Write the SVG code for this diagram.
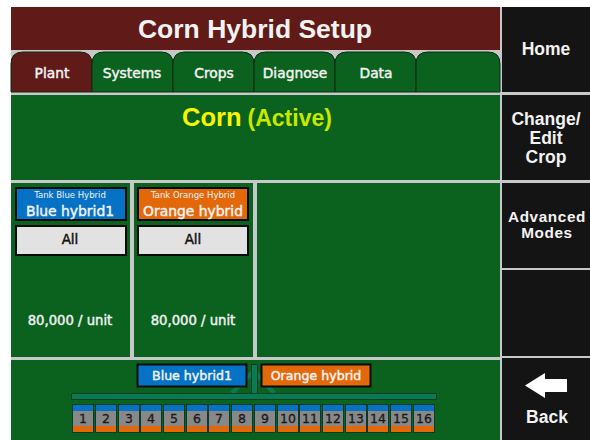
<svg xmlns="http://www.w3.org/2000/svg" width="590" height="440" viewBox="0 0 590 440">
<style>
text{font-family:"Liberation Sans",Arial,sans-serif;font-weight:700;fill:#f2f2f2;text-anchor:middle}
.g{fill:#0b621f}
.k{fill:#141414}
.tab{stroke:#0d2a12;stroke-width:1}
.dj{font-family:"DejaVu Sans",sans-serif;font-weight:400;stroke:#f2f2f2;stroke-width:.45px}
.tt{font-size:13.8px}
.side{font-size:17.5px}
.sm{font-size:8.5px;font-weight:400;font-family:"DejaVu Sans",sans-serif}
.nm{font-size:13.9px}
.amt{font-size:13.2px}
.lb{font-size:12.6px}
.all{font-size:13.5px;fill:#111;stroke:#111}
.box{stroke:#0a0a0a;stroke-width:2}
.bar{fill:#0a7a52;stroke:#0b3a28;stroke-width:1}
.rc{fill:#888;stroke:#0b3a28}
.rb{fill:#0672c6}
.ro{fill:#e2680a}
.rn{font-size:12.5px;fill:#1a1a1a;stroke:#1a1a1a;stroke-width:.3px}
</style>
<rect width="590" height="440" fill="#c8c8c8"/>
<rect width="590" height="7" fill="#fff"/>
<rect y="7" width="11" height="433" fill="#fff"/>
<g id="title"><rect x="11" y="7" width="489" height="43" fill="#601a18"/><text x="255" y="38" font-size="26.500">Corn Hybrid Setup</text></g>
<g id="tabs">
<path d="M11 92V64Q11 52 23 52H80Q92 52 92 64V92Z" fill="#601a18" class="tab"/>
<path d="M92 92V64Q92 52 104 52H161Q173 52 173 64V92Z" class="g tab"/>
<path d="M173 92V64Q173 52 185 52H242Q254 52 254 64V92Z" class="g tab"/>
<path d="M254 92V64Q254 52 266 52H323Q335 52 335 64V92Z" class="g tab"/>
<path d="M335 92V64Q335 52 347 52H404Q416 52 416 64V92Z" class="g tab"/>
<path d="M416 92V64Q416 52 428 52H488Q500 52 500 64V92Z" class="g tab"/>
<text x="52" y="78" class="dj tt">Plant</text><text x="132" y="78" class="dj tt">Systems</text><text x="214" y="78" class="dj tt">Crops</text><text x="295" y="78" class="dj tt">Diagnose</text><text x="376" y="78" class="dj tt">Data</text>
</g>
<g id="crop"><rect x="11" y="95" width="489" height="85" class="g"/><text x="257" y="126"><tspan font-size="25.500" fill="#f6f600">Corn</tspan><tspan font-size="23" fill="#c8e800" dx="6">(Active)</tspan></text></g>
<g id="tank-blue"><rect x="11" y="183" width="119" height="174" class="g"/>
<rect x="16" y="188" width="110" height="32" fill="#0672c6" class="box"/><text x="70" y="198" class="sm">Tank Blue Hybrid</text><text x="70" y="216" class="dj nm">Blue hybrid1</text>
<rect x="16" y="226" width="110" height="29" fill="#e2e2e2" class="box"/><text x="70" y="244" class="dj all">All</text>
<text x="70" y="325" class="dj amt">80,000 / unit</text></g>
<g id="tank-orange"><rect x="134" y="183" width="119" height="174" class="g"/>
<rect x="138" y="188" width="110" height="32" fill="#e2680a" class="box"/><text x="193" y="198" class="sm">Tank Orange Hybrid</text><text x="193" y="216" class="dj nm">Orange hybrid</text>
<rect x="138" y="226" width="110" height="29" fill="#e2e2e2" class="box"/><text x="193" y="244" class="dj all">All</text>
<text x="193" y="325" class="dj amt">80,000 / unit</text></g>
<g id="empty-panel"><rect x="257" y="183" width="243" height="174" class="g"/></g>
<g id="planter"><rect x="11" y="360" width="489" height="80" class="g"/>
<g id="connectors">
<path d="M232 393L254 371M274 393L254 371" stroke="#0a7a52" stroke-width="4.500" fill="none"/>
<rect x="251.500" y="364.500" width="6" height="29" class="bar"/>
<rect x="71.500" y="393.500" width="365" height="6" class="bar"/>
</g>
<rect x="137.500" y="364.500" width="109" height="22" fill="#0672c6" class="box"/><text x="192" y="380" class="dj lb">Blue hybrid1</text>
<rect x="261.500" y="364.500" width="109" height="22" fill="#e2680a" class="box"/><text x="316" y="380" class="dj lb">Orange hybrid</text>
</g>
<g id="rows">
<g id="r1"><rect x="72.500" y="404.500" width="21" height="28" class="rc"/><rect x="73" y="405" width="20" height="6" class="rb"/><rect x="73" y="426" width="20" height="6" class="ro"/><text x="83" y="423" class="dj rn">1</text></g>
<g id="r2"><rect x="95.500" y="404.500" width="21" height="28" class="rc"/><rect x="96" y="405" width="20" height="6" class="rb"/><rect x="96" y="426" width="20" height="6" class="ro"/><text x="106" y="423" class="dj rn">2</text></g>
<g id="r3"><rect x="118.500" y="404.500" width="21" height="28" class="rc"/><rect x="119" y="405" width="20" height="6" class="rb"/><rect x="119" y="426" width="20" height="6" class="ro"/><text x="129" y="423" class="dj rn">3</text></g>
<g id="r4"><rect x="140.500" y="404.500" width="21" height="28" class="rc"/><rect x="141" y="405" width="20" height="6" class="rb"/><rect x="141" y="426" width="20" height="6" class="ro"/><text x="151" y="423" class="dj rn">4</text></g>
<g id="r5"><rect x="163.500" y="404.500" width="21" height="28" class="rc"/><rect x="164" y="405" width="20" height="6" class="rb"/><rect x="164" y="426" width="20" height="6" class="ro"/><text x="174" y="423" class="dj rn">5</text></g>
<g id="r6"><rect x="186.500" y="404.500" width="21" height="28" class="rc"/><rect x="187" y="405" width="20" height="6" class="rb"/><rect x="187" y="426" width="20" height="6" class="ro"/><text x="197" y="423" class="dj rn">6</text></g>
<g id="r7"><rect x="208.500" y="404.500" width="21" height="28" class="rc"/><rect x="209" y="405" width="20" height="6" class="rb"/><rect x="209" y="426" width="20" height="6" class="ro"/><text x="219" y="423" class="dj rn">7</text></g>
<g id="r8"><rect x="231.500" y="404.500" width="21" height="28" class="rc"/><rect x="232" y="405" width="20" height="6" class="rb"/><rect x="232" y="426" width="20" height="6" class="ro"/><text x="242" y="423" class="dj rn">8</text></g>
<g id="r9"><rect x="254.500" y="404.500" width="21" height="28" class="rc"/><rect x="255" y="405" width="20" height="6" class="rb"/><rect x="255" y="426" width="20" height="6" class="ro"/><text x="265" y="423" class="dj rn">9</text></g>
<g id="r10"><rect x="277.500" y="404.500" width="21" height="28" class="rc"/><rect x="278" y="405" width="20" height="6" class="rb"/><rect x="278" y="426" width="20" height="6" class="ro"/><text x="288" y="423" class="dj rn">10</text></g>
<g id="r11"><rect x="299.500" y="404.500" width="21" height="28" class="rc"/><rect x="300" y="405" width="20" height="6" class="rb"/><rect x="300" y="426" width="20" height="6" class="ro"/><text x="310" y="423" class="dj rn">11</text></g>
<g id="r12"><rect x="322.500" y="404.500" width="21" height="28" class="rc"/><rect x="323" y="405" width="20" height="6" class="rb"/><rect x="323" y="426" width="20" height="6" class="ro"/><text x="333" y="423" class="dj rn">12</text></g>
<g id="r13"><rect x="345.500" y="404.500" width="21" height="28" class="rc"/><rect x="346" y="405" width="20" height="6" class="rb"/><rect x="346" y="426" width="20" height="6" class="ro"/><text x="356" y="423" class="dj rn">13</text></g>
<g id="r14"><rect x="367.500" y="404.500" width="21" height="28" class="rc"/><rect x="368" y="405" width="20" height="6" class="rb"/><rect x="368" y="426" width="20" height="6" class="ro"/><text x="378" y="423" class="dj rn">14</text></g>
<g id="r15"><rect x="390.500" y="404.500" width="21" height="28" class="rc"/><rect x="391" y="405" width="20" height="6" class="rb"/><rect x="391" y="426" width="20" height="6" class="ro"/><text x="401" y="423" class="dj rn">15</text></g>
<g id="r16"><rect x="413.500" y="404.500" width="21" height="28" class="rc"/><rect x="414" y="405" width="20" height="6" class="rb"/><rect x="414" y="426" width="20" height="6" class="ro"/><text x="424" y="423" class="dj rn">16</text></g>
</g>
<g id="home"><rect x="502" y="7" width="88" height="85" class="k"/><text x="546" y="55" class="side">Home</text></g>
<g id="change"><rect x="502" y="95" width="88" height="85" class="k"/><text x="546" y="125" class="side">Change/</text><text x="546" y="144" class="side">Edit</text><text x="546" y="163" class="side">Crop</text></g>
<g id="advanced"><rect x="502" y="183" width="88" height="85" class="k"/><text x="547" y="222" font-size="15.300" style="letter-spacing:.6px">Advanced</text><text x="547" y="238" font-size="15.300" style="letter-spacing:.6px">Modes</text></g>
<g id="blank"><rect x="502" y="270" width="88" height="86" class="k"/></g>
<g id="back"><rect x="502" y="358" width="88" height="82" class="k"/><path d="M525 385.500L545 373V379H567V392H545V398Z" fill="#fff"/><text x="547" y="423" class="side">Back</text></g>
</svg>
